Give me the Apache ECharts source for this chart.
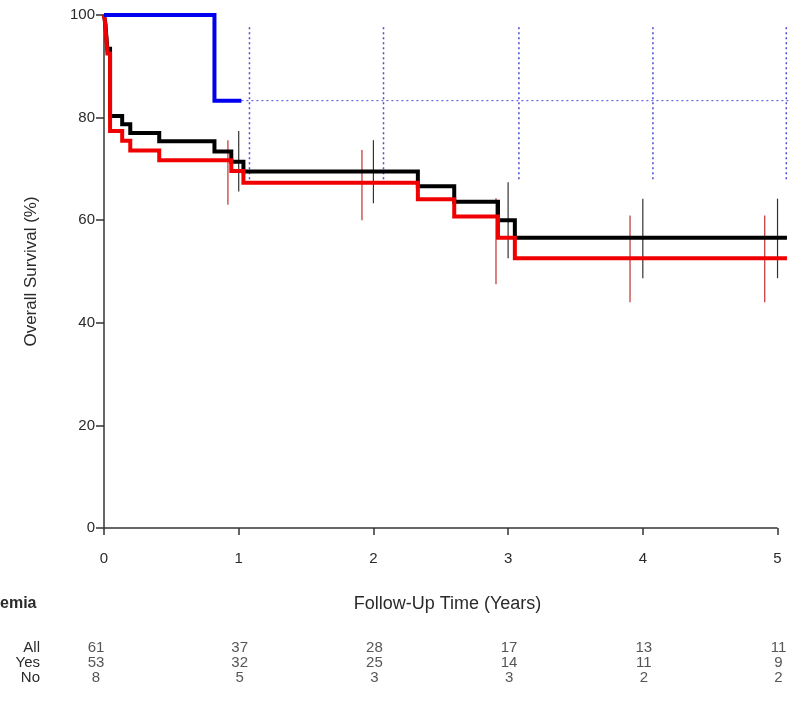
<!DOCTYPE html>
<html>
<head>
<meta charset="utf-8">
<script src="https://cdn.jsdelivr.net/npm/echarts@6/dist/echarts.min.js"></script>
<style>
html,body{margin:0;padding:0;background:#fff;}
#c{width:792px;height:702px;}
</style>
</head>
<body>
<div id="c"></div>
<script>
// ---- Data ----
const allT = [0, 0.01, 0.015, 0.02, 0.025, 0.045, 0.135, 0.195, 0.41, 0.82, 0.945, 1.035, 2.33, 2.6, 2.925, 3.05, 5.07];
const allS = [100, 98.4, 96.7, 95.1, 93.4, 80.3, 78.7, 77.0, 75.4, 73.4, 71.4, 69.5, 66.6, 63.6, 60.0, 56.6, 56.6];

const yesT = [0, 0.01, 0.015, 0.02, 0.025, 0.045, 0.135, 0.195, 0.41, 0.945, 1.035, 2.33, 2.6, 2.925, 3.05, 5.07];
const yesS = [100, 98.1, 96.2, 94.3, 92.5, 77.4, 75.5, 73.6, 71.7, 69.6, 67.3, 64.1, 60.7, 56.6, 52.6, 52.6];

const noT = [0, 0.82, 1.02];
const noS = [100, 83.3, 83.3];
const noTailT = [1.02, 5.1];
const noTailS = [83.3, 83.3];

const ciAllT = [1, 2, 3, 4, 5];
const ciAllLo = [65.6, 63.3, 52.6, 48.7, 48.7];
const ciAllHi = [77.4, 75.6, 67.4, 64.2, 64.2];

const ciYesT = [0.92, 1.915, 2.91, 3.905, 4.905];
const ciYesLo = [63.0, 60.0, 47.5, 44.0, 44.0];
const ciYesHi = [75.6, 73.7, 64.3, 60.9, 60.9];

const ciNoT = [1.08, 2.075, 3.08, 4.075, 5.065];
const ciNoLo = [68, 68, 68, 68, 68];
const ciNoHi = [98, 98, 98, 98, 98];

const xTicks = [0, 1, 2, 3, 4, 5];
const yTicks = [0, 20, 40, 60, 80, 100];

const riskTimes = [0, 1, 2, 3, 4, 5];
const riskAll = [61, 37, 28, 17, 13, 11];
const riskYes = [53, 32, 25, 14, 11, 9];
const riskNo = [8, 5, 3, 3, 2, 2];
const rowLabels = ['All', 'Yes', 'No'];

// ---- Helpers ----
const FONT = "'Liberation Sans', Arial, sans-serif";
const TXT = '#2a2a2a';
const zip = (t, s) => t.map((v, i) => [v, s[i]]);
const ciData = (t, lo, hi) => t.map((v, i) => [v, lo[i], hi[i]]);
function ciSeries(name, data, color, width, dash) {
  return {
    name: name, type: 'custom', xAxisIndex: 0, yAxisIndex: 0, silent: true, clip: false, z: 3,
    encode: { x: 0, y: [1, 2] },
    data: data,
    renderItem: function (params, api) {
      const a = api.coord([api.value(0), api.value(1)]);
      const b = api.coord([api.value(0), api.value(2)]);
      return {
        type: 'line',
        shape: { x1: a[0], y1: a[1], x2: b[0], y2: b[1] },
        style: { stroke: color, lineWidth: width, lineDash: dash || null }
      };
    }
  };
}
function stepSeries(name, data, color, width, z, type) {
  return {
    name: name, type: 'line', step: 'end', data: data, showSymbol: false, symbol: 'none',
    clip: false, silent: true, z: z, animation: false,
    lineStyle: { color: color, width: width, type: type || 'solid', join: 'miter', cap: 'butt' }
  };
}

const riskRows = [riskAll, riskYes, riskNo];
const riskData = [];
riskRows.forEach((row, r) => {
  row.forEach((n, i) => {
    riskData.push({
      value: [riskTimes[i], r, n],
      label: { offset: [i === 0 ? -8 : 1, 0] }
    });
  });
});

const chart = echarts.init(document.getElementById('c'), null, { renderer: 'canvas' });
chart.setOption({
  animation: false,
  backgroundColor: '#fff',
  textStyle: { fontFamily: FONT },
  grid: [
    { left: 104, right: 1, top: 15, height: 513 },
    { left: 104, right: 1, top: 640.5, height: 45 }
  ],
  xAxis: [
    {
      gridIndex: 0, type: 'value', min: 0, max: 5.1,
      name: 'Follow-Up Time (Years)', nameLocation: 'middle', nameGap: 67,
      nameTextStyle: { fontFamily: FONT, fontSize: 18, color: TXT },
      axisLine: { show: false },
      axisTick: { show: true, length: 7, customValues: xTicks, lineStyle: { color: '#333', width: 1.5 } },
      axisLabel: { customValues: xTicks, margin: 23, fontFamily: FONT, fontSize: 15, color: TXT },
      splitLine: { show: false }
    },
    {
      gridIndex: 1, type: 'value', min: 0, max: 5.1, show: false
    }
  ],
  yAxis: [
    {
      gridIndex: 0, type: 'value', min: 0, max: 100, interval: 20,
      name: 'Overall Survival (%)', nameLocation: 'middle', nameGap: 64, nameRotate: 90,
      nameTextStyle: { fontFamily: FONT, fontSize: 17, color: TXT },
      axisLine: { show: true, lineStyle: { color: '#333', width: 1.5 } },
      axisTick: { show: true, length: 8, lineStyle: { color: '#333', width: 1.5 } },
      axisLabel: { margin: 9, fontFamily: FONT, fontSize: 15, color: TXT },
      splitLine: { show: false }
    },
    {
      gridIndex: 1, type: 'category', data: rowLabels, inverse: true,
      axisLine: { show: false }, axisTick: { show: false }, splitLine: { show: false },
      axisLabel: { interval: 0, margin: 64, fontFamily: FONT, fontSize: 15, color: TXT }
    }
  ],
  graphic: [
    {
      type: 'text', left: 0, top: 596,
      style: { text: 'emia', font: "bold 16px 'Liberation Sans', Arial, sans-serif", fill: TXT }
    }
  ],
  series: [
    {
      name: 'xaxis', type: 'line', data: [[0, 0], [5, 0]], showSymbol: false, symbol: 'none',
      clip: false, silent: true, z: 1, lineStyle: { color: '#333', width: 1.5 }
    },
    stepSeries('All', zip(allT, allS), '#000000', 4, 4),
    stepSeries('Yes', zip(yesT, yesS), '#f00000', 4, 5),
    stepSeries('No', zip(noT, noS), '#0000f0', 4, 6),
    stepSeries('No (tail)', zip(noTailT, noTailS), '#4a4ad6', 1, 2, [2, 3]),
    ciSeries('CI All', ciData(ciAllT, ciAllLo, ciAllHi), '#333333', 1.2),
    ciSeries('CI Yes', ciData(ciYesT, ciYesLo, ciYesHi), '#c03030', 1.2),
    ciSeries('CI No', ciData(ciNoT, ciNoLo, ciNoHi), '#4a4ad6', 1.5, [2, 3]),
    {
      name: 'at risk', type: 'scatter', xAxisIndex: 1, yAxisIndex: 1, symbolSize: 0,
      silent: true, data: riskData,
      label: {
        show: true, position: 'inside', formatter: p => String(p.value[2]),
        fontFamily: FONT, fontSize: 15, color: TXT
      }
    }
  ]
});
</script>
</body>
</html>
